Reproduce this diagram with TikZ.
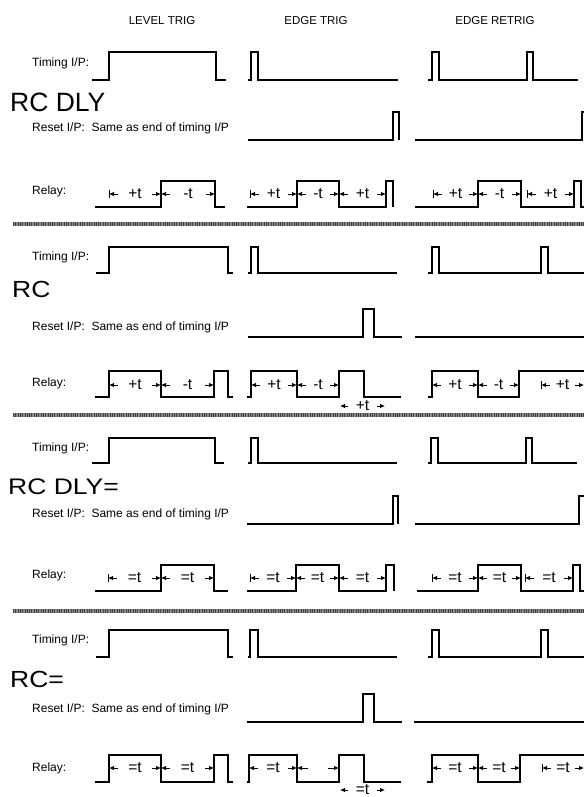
\documentclass[tikz,border=0pt]{standalone}
\usepackage{fontspec}
\setmainfont{Liberation Sans}
\usetikzlibrary{arrows.meta}
\tikzset{
  wave/.style={line width=1.3pt, line join=miter},
  lbl/.style={anchor=west, inner sep=0pt, font=\fontsize{12}{14}\selectfont},
  hdr/.style={inner sep=0pt, font=\fontsize{11.5}{14}\selectfont},
  ttl/.style={anchor=base west, inner sep=0pt, font=\fontsize{26.5}{30}\selectfont},
  dimtext/.style={inner sep=0pt, font=\fontsize{15.5}{17}\selectfont},
  dimarr/.style={line width=0.8pt, -{Latex[length=5pt,width=4.5pt]}},
  dimbar/.style={line width=0.8pt},
  sep/.style={line width=4pt, draw=black!45},
  septex/.style={line width=4pt, draw=black!75, dash pattern=on 1pt off 1.3pt}
}
\newcommand\dimlab[5]{%
  \node[dimtext] (#1) at ({(#2+#3)/2},#4) {#5};
  \draw[dimarr] (#2+9,#4) -- (#2,#4);
  \draw[dimarr] (#3-9,#4) -- (#3,#4);
}
\newcommand\outlab[5]{%
  \node[dimtext] (#1) at ({(#2+#3)/2},#4) {#5};
  \draw[dimarr] (#2+8,#4) -- (#2,#4);
  \draw[dimarr] (#3-8,#4) -- (#3,#4);
}
\newcommand\tickbar[2]{\draw[dimbar] (#1,#2-4) -- (#1,#2+4);}
\newcommand\sepband[1]{%
  \draw[sep] (13,#1) -- (584,#1);
  \draw[septex] (13,#1) -- (584,#1);
}
\begin{document}
\begin{tikzpicture}[x=1pt,y=-1pt]
\useasboundingbox (0,0) rectangle (584,797);

% headers
\node[hdr] (hLevel) at (162,21) {LEVEL TRIG};
\node[hdr] (hEdge) at (316,21) {EDGE TRIG};
\node[hdr] (hRetrig) at (495,21) {EDGE RETRIG};

% separators
\sepband{224}
\sepband{415}
\sepband{611}

%================ Section 1: RC DLY
\node[ttl] (t1) at (10,111) {RC DLY};
\node[lbl] (tim1) at (32,63) {Timing I/P:};
\node[lbl] (rst1) at (32,128) {Reset I/P:\ \ Same as end of timing I/P};
\node[lbl] (rel1) at (32,191) {Relay:};
% timing
\draw[wave] (92,80)--(109,80)--(109,52)--(216,52)--(216,80)--(226,80);
\draw[wave] (248,80)--(251,80)--(251,52)--(258,52)--(258,80)--(398,80);
\draw[wave] (428,80)--(432,80)--(432,52)--(439,52)--(439,80)--(527,80)--(527,52)--(533,52)--(533,80)--(578,80);
% reset
\draw[wave] (248,140)--(393,140)--(393,112)--(399,112)--(399,140);
\draw[wave] (415,140)--(582,140)--(582,112)--(584,112);
% relay
\draw[wave] (95,207)--(161,207)--(161,181)--(215,181)--(215,207)--(225,207);
\draw[wave] (247,207)--(297,207)--(297,181)--(339,181)--(339,207)--(386,207)--(386,181)--(393,181)--(393,207);
\draw[wave] (415,207)--(478,207)--(478,181)--(521,181)--(521,207)--(574,207)--(574,181)--(581,181)--(581,207)--(584,207);
% labels
\tickbar{109}{194}
\dimlab{a1}{109}{161}{194}{+t}
\dimlab{a2}{161}{215}{194}{-t}
\tickbar{250}{194}
\dimlab{a3}{250}{297}{194}{+t}
\dimlab{a4}{297}{339}{194}{-t}
\dimlab{a5}{339}{386}{194}{+t}
\tickbar{433}{194}
\dimlab{a6}{433}{478}{194}{+t}
\dimlab{a7}{478}{521}{194}{-t}
\tickbar{527}{194}
\dimlab{a8}{527}{574}{194}{+t}

%================ Section 2: RC
\node[ttl] (t2) at (12,297) {\scalebox{1}[0.88]{RC}};
\node[lbl] (tim2) at (32,257) {Timing I/P:};
\node[lbl] (rst2) at (32,327) {Reset I/P:\ \ Same as end of timing I/P};
\node[lbl] (rel2) at (32,383) {Relay:};
\draw[wave] (96,273)--(109,273)--(109,247)--(228,247)--(228,273)--(233,273);
\draw[wave] (248,273)--(251,273)--(251,247)--(258,247)--(258,273)--(397,273);
\draw[wave] (428,273)--(432,273)--(432,247)--(439,247)--(439,273)--(541,273)--(541,247)--(548,247)--(548,273)--(584,273);
\draw[wave] (248,337)--(363,337)--(363,309)--(374,309)--(374,337)--(402,337);
\draw[wave] (415,337)--(584,337);
\draw[wave] (95,397)--(109,397)--(109,371)--(161,371)--(161,397)--(214,397)--(214,371)--(228,371)--(228,397)--(233,397);
\draw[wave] (247,397)--(251,397)--(251,371)--(297,371)--(297,397)--(339,397)--(339,371)--(364,371)--(364,397)--(401,397);
\draw[wave] (428,397)--(432,397)--(432,371)--(478,371)--(478,397)--(519,397)--(519,371)--(584,371);
\dimlab{b1}{109}{161}{385}{+t}
\dimlab{b2}{161}{214}{385}{-t}
\dimlab{b3}{251}{297}{385}{+t}
\dimlab{b4}{297}{339}{385}{-t}
\outlab{b5}{340}{385}{406}{+t}
\dimlab{b6}{432}{478}{385}{+t}
\dimlab{b7}{478}{519}{385}{-t}
\tickbar{541}{385}
\dimlab{b8}{541}{584}{385}{+t}

%================ Section 3: RC DLY=
\node[ttl] (t3) at (8,494) {\scalebox{1}[0.85]{RC DLY=}};
\node[lbl] (tim3) at (32,448) {Timing I/P:};
\node[lbl] (rst3) at (32,514) {Reset I/P:\ \ Same as end of timing I/P};
\node[lbl] (rel3) at (32,575) {Relay:};
\draw[wave] (92,463)--(109,463)--(109,438)--(215,438)--(215,463)--(224,463);
\draw[wave] (248,463)--(251,463)--(251,438)--(258,438)--(258,463)--(397,463);
\draw[wave] (428,463)--(431,463)--(431,438)--(438,438)--(438,463)--(526,463)--(526,438)--(532,438)--(532,463)--(577,463);
\draw[wave] (247,524)--(393,524)--(393,496)--(398,496)--(398,524);
\draw[wave] (415,524)--(579,524)--(579,496)--(584,496);
\draw[wave] (95,591)--(161,591)--(161,565)--(214,565)--(214,591)--(228,591);
\draw[wave] (247,591)--(296,591)--(296,565)--(339,565)--(339,591)--(386,591)--(386,565)--(394,565)--(394,591);
\draw[wave] (417,591)--(478,591)--(478,565)--(521,565)--(521,591)--(573,591)--(573,565)--(580,565)--(580,591)--(584,591);
\tickbar{108}{578}
\dimlab{c1}{108}{161}{578}{=t}
\dimlab{c2}{161}{214}{578}{=t}
\tickbar{250}{578}
\dimlab{c3}{250}{296}{578}{=t}
\dimlab{c4}{296}{339}{578}{=t}
\dimlab{c5}{339}{386}{578}{=t}
\tickbar{432}{578}
\dimlab{c6}{432}{478}{578}{=t}
\dimlab{c7}{478}{521}{578}{=t}
\tickbar{525}{578}
\dimlab{c8}{525}{573}{578}{=t}

%================ Section 4: RC=
\node[ttl] (t4) at (10,687) {\scalebox{1}[0.88]{RC=}};
\node[lbl] (tim4) at (32,640) {Timing I/P:};
\node[lbl] (rst4) at (32,709) {Reset I/P:\ \ Same as end of timing I/P};
\node[lbl] (rel4) at (32,768) {Relay:};
\draw[wave] (96,657)--(109,657)--(109,630)--(228,630)--(228,657)--(233,657);
\draw[wave] (248,657)--(250,657)--(250,630)--(258,630)--(258,657)--(397,657);
\draw[wave] (428,657)--(432,657)--(432,630)--(439,630)--(439,657)--(541,657)--(541,630)--(548,630)--(548,657)--(584,657);
\draw[wave] (247,722)--(363,722)--(363,694)--(374,694)--(374,722)--(402,722);
\draw[wave] (414,722)--(584,722);
\draw[wave] (95,782)--(109,782)--(109,755)--(161,755)--(161,782)--(214,782)--(214,755)--(228,755)--(228,782)--(233,782);
\draw[wave] (247,782)--(249,782)--(249,755)--(297,755)--(297,782)--(339,782)--(339,755)--(364,755)--(364,782)--(401,782);
\draw[wave] (427,782)--(432,782)--(432,755)--(478,755)--(478,782)--(520,782)--(520,755)--(584,755);
\dimlab{d1}{109}{161}{768}{=t}
\dimlab{d2}{161}{214}{768}{=t}
\dimlab{d3}{249}{297}{768}{=t}
\coordinate (d4) at (318,768);
\draw[dimarr] (308,768) -- (297,768);
\draw[dimarr] (328,768) -- (339,768);
\outlab{d5}{340}{385}{790}{=t}
\dimlab{d6}{432}{478}{768}{=t}
\dimlab{d7}{478}{520}{768}{=t}
\tickbar{542}{768}
\dimlab{d8}{542}{584}{768}{=t}
\end{tikzpicture}
\end{document}
